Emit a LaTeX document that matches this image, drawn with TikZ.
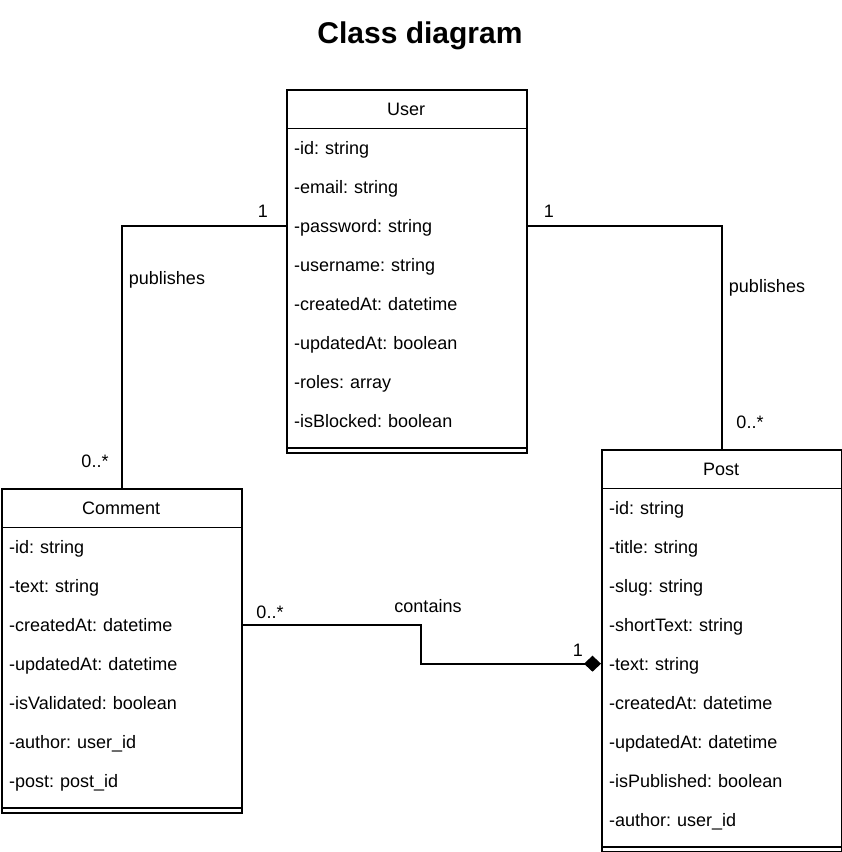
\documentclass[tikz,border=0pt]{standalone}
\usepackage{fontspec}
\setmainfont{Liberation Sans}
\usetikzlibrary{arrows.meta,calc}
\frenchspacing

\tikzset{
  umlbox/.style={draw, line width=1.7pt, anchor=north west, minimum width=240pt, inner sep=0pt},
  umlhead/.style={anchor=north west, minimum width=240pt, minimum height=39pt, inner sep=0pt,
    text height=15pt, text depth=2pt, font=\fontsize{18}{21}\selectfont},
  umlrow/.style={anchor=north west, text width=224pt, align=left, inner xsep=8pt, inner ysep=0pt,
    minimum height=39pt, text height=15pt, text depth=2pt, font=\fontsize{18}{21}\selectfont},
  umlline/.style={line width=1.7pt},
  assoc/.style={line width=1.7pt},
  lbl/.style={font=\fontsize{18}{21}\selectfont, inner sep=0pt},
}

% #1 name, #2 left, #3 top, #4 number of attributes, #5 class name, #6 attributes
\newcommand\umlclass[6]{%
  \node[umlbox, minimum height={39*(#4+1)+12}] (#1) at (#2,#3) {};
  \node[umlhead] (#1-head) at (#2,#3) {#5};
  \foreach \t [count=\i] in {#6} {
    \node[umlrow] (#1\i) at (#2, #3+39*\i) {\t};
  }
  \draw[umlline] (#1-head.south west) -- (#1-head.south east);
  \draw[umlline] ($(#1.south west)+(0,-6)$) -- ($(#1.south east)+(0,-6)$);
}

\begin{document}
\begin{tikzpicture}[x=1pt, y=-1pt]
  \useasboundingbox (0,0) rectangle (842,852);

  \node[font=\fontsize{30}{34}\selectfont\bfseries, anchor=base, inner sep=0pt] (title) at (420,43) {Class diagram};

  \umlclass{user}{286}{89}{8}{User}{%
    -id: string, -email: string, -password: string, -username: string,
    -createdAt: datetime, -updatedAt: boolean, -roles: array, -isBlocked: boolean}

  \umlclass{comment}{1}{488}{7}{Comment}{%
    -id: string, -text: string, -createdAt: datetime, -updatedAt: datetime,
    -isValidated: boolean, -author: user\_id, -post: post\_id}

  \umlclass{post}{601}{449}{9}{Post}{%
    -id: string, -title: string, -slug: string, -shortText: string, -text: string,
    -createdAt: datetime, -updatedAt: datetime, -isPublished: boolean, -author: user\_id}

  % associations
  \draw[assoc] (user3.west) -| (comment.north);
  \draw[assoc] (user3.east) -| (post.north);
  \coordinate (cmid) at ($(comment3.east)!0.5!(post5.west)$);
  \draw[assoc, -{Diamond[length=17pt, width=16pt, fill=black]}]
    (comment3.east) -| (cmid) |- (post5.west);

  % multiplicities and role labels
  \node[lbl] (m1) at (263,211) {1};
  \node[lbl] (l1) at (167,280) {publishes};
  \node[lbl] (m2) at (95,461) {0..*};
  \node[lbl] (m3) at (549,211) {1};
  \node[lbl] (l2) at (767,288) {publishes};
  \node[lbl] (m4) at (750,422) {0..*};
  \node[lbl] (m5) at (270,612) {0..*};
  \node[lbl] (l3) at (428,606) {contains};
  \node[lbl] (m6) at (578,650) {1};
\end{tikzpicture}
\end{document}
